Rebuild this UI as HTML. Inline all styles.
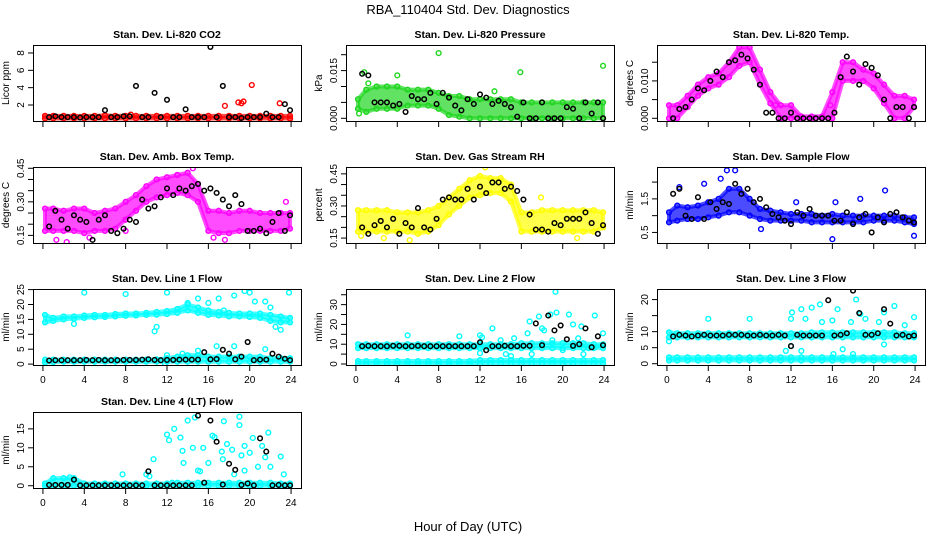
<!DOCTYPE html>
<html><head><meta charset="utf-8">
<style>
html,body{margin:0;padding:0;background:#fff;}
svg{display:block;font-family:"Liberation Sans",Arial,sans-serif;}
</style></head>
<body>
<svg id="chart" width="936" height="540" viewBox="0 0 936 540" xmlns="http://www.w3.org/2000/svg">
<rect x="0" y="0" width="936" height="540" fill="#fff"/>
<text x="468" y="14" text-anchor="middle" font-size="13">RBA_110404  Std. Dev. Diagnostics</text>
<text x="468" y="531" text-anchor="middle" font-size="13">Hour of Day (UTC)</text>
<g id="plots"></g>
</svg>
<script>
// shared hourly bins
const hours = [0,1,2,3,4,5,6,7,8,9,10,11,12,13,14,15,16,17,18,19,20,21,22,23,24];
const xTicks = [0,4,8,12,16,20,24];
// black reference sampling times
const blkT = [0.6,1.2,1.8,2.4,3,3.6,4.2,4.8,5.4,6,6.6,7.2,7.8,8.4,9,9.6,10.2,10.8,11.4,12,12.6,13.2,13.8,14.4,15,15.6,16.2,16.8,17.4,18,18.6,19.2,19.8,20.4,21,21.6,22.2,22.8,23.4,23.9];

// P1 CO2
const co2Lo = [0.45,0.45,0.45,0.45,0.45,0.45,0.45,0.45,0.45,0.45,0.45,0.45,0.45,0.45,0.45,0.45,0.45,0.45,0.45,0.45,0.45,0.45,0.45,0.45,0.45];
const co2Hi = [0.75,0.75,0.75,0.75,0.75,0.75,0.8,0.75,0.75,0.75,0.75,0.75,0.75,0.75,0.75,0.75,0.75,0.75,0.75,0.75,0.75,0.75,0.75,0.75,0.75];
const co2Out = [[17.6,1.9],[18.9,2.3],[19.2,2.2],[19.4,2.4],[20.2,4.3],[22.9,2.2],[23.9,0.4],[8.5,0.9]];
const co2Blk = [0.6,0.7,0.6,0.6,0.6,0.55,0.6,0.6,0.6,1.4,0.6,0.6,0.7,0.7,4.2,0.6,0.6,3.4,0.6,2.6,0.6,0.6,1.5,0.6,0.6,0.6,8.7,0.6,4.2,0.6,0.6,0.5,0.6,0.6,0.6,1.0,0.6,0.6,2.1,1.4];

// P2 Pressure
const prLo = [0.003,0.002,0.003,0.003,0.003,0.004,0.004,0.004,0.003,0.001,0.0005,0,0,0,0,0,0,0,0,0,0,0,0,0,0];
const prHi = [0.006,0.009,0.010,0.010,0.010,0.009,0.009,0.009,0.008,0.007,0.007,0.006,0.006,0.006,0.006,0.006,0.005,0.005,0.005,0.005,0.005,0.005,0.005,0.005,0.005];
const prOut = [[0.3,0.0015],[0.8,0.0145],[4,0.0135],[8,0.0205],[15.9,0.0145],[23.9,0.0165],[13.4,0.0085],[1.2,0.011]];
const prBlk = [0.014,0.0135,0.005,0.005,0.005,0.004,0.0045,0.002,0.007,0.006,0.006,0.008,0.0045,0.008,0.0065,0.004,0.0025,0.006,0.0045,0.0075,0.0065,0.0045,0.0055,0.0045,0.0035,0.0005,0.005,0,0,0.005,0,0,0,0.0035,0.003,0,0.005,0.0015,0.005,0];

// P3 Li-820 Temp
const tmLo = [0,0,0.003,0.006,0.008,0.009,0.011,0.014,0.015,0.009,0.004,0,0,0,0,0,0,0.010,0.010,0.010,0.008,0.004,0,0,0.003];
const tmHi = [0.0035,0.0035,0.006,0.009,0.011,0.012,0.015,0.019,0.019,0.013,0.007,0.0035,0.0035,0.0005,0.0005,0.0005,0.007,0.015,0.015,0.013,0.012,0.009,0.006,0.006,0.005];
const tmOut = [[10.5,0.0035],[15.8,0.0035]];
const tmBlk = [0,0.0025,0.003,0.005,0.008,0.0075,0.010,0.0125,0.011,0.015,0.0155,0.017,0.016,0.013,0.009,0.0015,0.0015,0,0,0.0015,0,0,0,0,0,0,0.0015,0.011,0.0165,0.0125,0.009,0.0145,0.0135,0.0115,0.005,0,0.003,0.003,0,0.003];

// P4 Amb Box Temp
const abLo = [0.17,0.17,0.17,0.17,0.16,0.17,0.17,0.18,0.22,0.26,0.30,0.32,0.33,0.34,0.33,0.30,0.17,0.16,0.16,0.17,0.17,0.17,0.17,0.17,0.18];
const abHi = [0.27,0.27,0.26,0.27,0.27,0.25,0.26,0.27,0.30,0.33,0.37,0.40,0.41,0.42,0.43,0.38,0.26,0.26,0.25,0.26,0.26,0.25,0.25,0.25,0.25];
const abOut = [[1.3,0.13],[2.3,0.12],[8,0.17],[13,0.42],[14.5,0.45],[16.5,0.14],[17.6,0.13],[23.5,0.3],[4.5,0.14]];
const abBlk = [0.19,0.26,0.22,0.18,0.24,0.22,0.21,0.13,0.22,0.24,0.17,0.16,0.18,0.22,0.21,0.31,0.27,0.28,0.32,0.36,0.33,0.36,0.35,0.37,0.38,0.35,0.36,0.34,0.31,0.28,0.33,0.29,0.17,0.17,0.18,0.16,0.21,0.25,0.17,0.24];

// P5 Gas Stream RH
const rhLo = [0.18,0.18,0.18,0.18,0.18,0.18,0.17,0.18,0.21,0.26,0.30,0.34,0.35,0.36,0.36,0.32,0.18,0.18,0.18,0.18,0.18,0.18,0.18,0.18,0.20];
const rhHi = [0.28,0.28,0.28,0.28,0.27,0.27,0.27,0.28,0.30,0.34,0.38,0.42,0.44,0.43,0.43,0.40,0.27,0.27,0.28,0.28,0.28,0.28,0.28,0.28,0.27];
const rhOut = [[0.5,0.16],[2.7,0.15],[5.2,0.14],[12.5,0.48],[17.9,0.34],[21.4,0.15]];
const rhBlk = [0.2,0.17,0.21,0.23,0.2,0.24,0.17,0.22,0.2,0.29,0.2,0.19,0.24,0.33,0.34,0.33,0.33,0.38,0.33,0.39,0.36,0.41,0.41,0.38,0.39,0.37,0.33,0.26,0.19,0.19,0.18,0.22,0.21,0.24,0.24,0.24,0.27,0.22,0.17,0.21];

// P6 Sample Flow
const sfLo = [0.8,0.85,0.9,0.9,0.95,1.0,1.1,1.1,1.0,0.9,0.85,0.85,0.85,0.85,0.8,0.8,0.8,0.8,0.8,0.8,0.85,0.85,0.85,0.8,0.75];
const sfHi = [1.1,1.3,1.25,1.3,1.4,1.5,1.8,1.8,1.5,1.2,1.15,1.1,1.05,1.05,1.05,1.0,1.05,1.0,1.0,1.0,1.0,1.0,1.0,0.95,0.95];
const sfOut = [[1.2,1.85],[3.6,1.95],[5.2,2.1],[5.8,2.35],[6.6,2.35],[9.1,0.6],[16,0.3],[18.7,1.5],[21.1,1.75],[23.9,0.4],[12.5,1.4],[16.3,1.4]];
const sfBlk = [1.65,1.8,1.0,0.9,1.55,0.9,1.4,1.2,1.4,1.35,1.95,1.65,1.8,1.4,1.5,1.25,1.05,0.95,0.85,0.75,1.1,1.0,1.2,1.0,1.0,1.0,0.85,0.85,1.1,0.75,0.95,1.05,0.5,0.95,0.8,1.05,1.1,0.95,0.85,0.8];

// P7 Line 1 Flow
const l1aLo = [14,14.5,15,15.2,15.5,15.7,15.8,16,16.2,16.3,16.5,16.6,16.8,17.2,18,17.2,16.5,16.3,16,16,15.8,15.5,14.5,14,14];
const l1aHi = [16.5,15.5,16,16,16.3,16.5,16.5,16.8,17,17,17.2,17.5,17.8,18.5,20,19,18,17.5,17.2,17,17,17,16.5,16,15.5];
const l1bLo = [0.5,0.7,0.8,0.8,0.8,0.8,0.8,0.8,0.8,0.8,0.8,0.8,0.8,0.8,0.8,0.8,0.8,0.8,0.8,0.8,0.8,0.8,0.8,0.8,0.8];
const l1bHi = [1.5,1.5,1.5,1.5,1.5,1.5,1.5,1.5,1.5,1.5,1.5,1.6,2,2.5,3,3,2.5,2.5,2.5,2.5,2.5,2.5,2,2,2];
const l1Out = [[4,24],[8,23.5],[10.8,11],[11,12.5],[12,24],[14,20.5],[15,22],[16,20.5],[17,22],[17.5,18],[18.5,23],[19.5,24.5],[20,24],[20.5,21],[21.5,21],[22,19],[22.5,12.5],[23.8,24],[16.8,6],[18.5,6],[21.5,5],[13.5,3.5],[15,4.5],[12,3],[3,13.5],[23,11.5],[11.8,0.2]];
const l1Blk = [1.2,1.3,1.3,1.3,1.3,1.3,1.4,1.3,1.4,1.3,1.3,1.3,1.4,1.4,1.4,1.5,1.6,1.4,1.3,1.4,1.4,1.5,1.5,1.5,1.5,4,1.6,1.7,4.8,3.5,1.6,2.5,7.4,1.3,1.5,1.5,3.5,2.5,1.8,1.3];

// P8 Line 2 Flow
const l2aLo = [8,8,8,8,8,8,8,8,8,8,8,8,8,8,8,8,8,8,8,8,8,8,8,8,8];
const l2aHi = [10,10,10,10,10,10,10,10,10,10,10,10,10,10,10,10,10.5,10.5,10.5,10.5,10.5,10.5,10.5,10,10];
const l2bLo = [0.3,0.3,0.3,0.3,0.3,0.3,0.3,0.3,0.3,0.3,0.3,0.3,0.3,0.3,0.3,0.3,0.3,0.3,0.3,0.3,0.3,0.3,0.3,0.3,0.3];
const l2bHi = [1.5,1.5,1.5,1.5,1.5,1.5,1.5,1.5,1.5,1.5,1.5,1.5,2,2,2,2,2,2,2,2,2,2,2,2,2];
const l2Out = [[5,14.5],[10,14],[12,14.5],[12.2,13.5],[13.2,18],[14,12],[15.3,13],[16.6,15.5],[16.8,21.5],[17.7,24],[18,18],[18.2,17],[18.8,25],[19.3,36.5],[19.4,26],[20.6,25],[21,20],[21.5,13],[21.8,19],[23.1,24.5],[23.9,15.5],[14.5,5],[15,4],[17,5],[20,7],[22,5],[12,5.5],[19,12],[22.5,8]];
const l2Blk = [9,9.2,9,9,9,9.2,9.2,9,9,9.2,9,9,9,9,9,9,9,9,9,11,7,9,9,9.2,9,9,9.2,9.2,20.5,9.5,24.5,17,19.5,12.5,9.2,10,18,8.5,14,9.5];

// P9 Line 3 Flow
const l3aLo = [8.2,8.2,8.2,8.2,8.2,8.2,8.2,8.2,8.2,8.2,8.2,8.2,8.2,8.2,8.2,8.2,8.2,8.2,8.2,8.2,8.2,8.2,8.2,8.2,8.2];
const l3aHi = [9.8,9.5,9.5,9.5,9.5,9.5,9.5,9.5,9.5,9.5,9.5,9.5,9.5,9.5,9.8,9.8,9.8,9.8,9.8,9.8,9.8,9.8,9.8,9.5,9.5];
const l3bLo = [1.0,1.0,1.0,1.0,1.0,1.0,1.0,1.0,1.0,1.0,1.0,1.0,1.0,1.0,1.0,1.0,1.0,1.0,1.0,1.0,1.0,1.0,1.0,1.0,1.0];
const l3bHi = [2.0,2.0,2.0,2.0,2.0,2.0,2.0,2.0,2.0,2.0,2.0,2.0,2.0,2.0,2.0,2.0,2.0,2.0,2.0,2.0,2.0,2.0,2.0,2.0,2.0];
const l3Out = [[4,14],[8,14],[12,14],[12.1,16],[13,17],[13.4,14],[14,17.5],[15,13],[14.8,18.5],[16,13.5],[16.5,17],[17.8,13],[18.3,20],[18.7,15.5],[19.2,14],[20.5,13],[21,16],[22,18],[23,12],[23.9,14.5],[12,5.5],[13,4],[17,4.5],[21,6],[16.1,3],[18,3],[0.2,7],[11.5,4]];
const l3Blk = [8.5,9,8.8,8.5,8.8,9,8.8,8.8,8.8,9,9,9,8.8,8.8,9,8.8,8.8,9,8.8,5.5,9,8.8,8.8,8.8,8.8,19.8,8.8,9,9.5,22.8,15.8,9,9,9.5,17,12.5,8.8,9,8.5,8.8];

// P10 Line 4 (LT) Flow
const l4Lo = [0,0,0,0,0,0,0,0,0,0,0,0,0,0,0,0,0,0,0,0,0,0,0,0,0];
const l4Hi = [0.6,2,2,2,0.6,0.6,0.6,0.6,0.6,0.6,0.6,0.6,0.6,0.8,0.8,0.8,0.8,0.8,0.8,0.8,0.8,0.8,0.8,0.6,0.6];
const l4Out = [[7.7,3],[10.7,7],[12,13.5],[12.2,12],[12.7,15],[13.3,12.7],[13.5,9.2],[13.6,6],[14,17.2],[14.7,18],[14.5,10],[15,4],[15.5,10],[16,6],[16.4,13.2],[16.6,12.8],[17.5,17],[17.8,11],[17.3,9],[18.3,9.5],[19,18.2],[19,16],[19.2,8],[19.5,10.5],[20,8.7],[20.3,12.6],[20.8,5],[21.2,10.5],[21.5,7.5],[21.8,14],[22,5],[23,7.7],[23.3,3],[15.2,3.8],[17.4,7],[18.5,3],[19.5,4],[12.5,0.8],[10,3],[10.3,2.5],[2.6,2.2]];
const l4Blk = [0.2,0.2,0.2,0.2,1.6,0.1,0.1,0.1,0.1,0.1,0.1,0.1,0.1,0.1,0.1,0.1,3.8,0.1,0.1,0.1,0.1,0.1,0.1,0.1,18.5,0.8,17.2,11.6,0.3,5.8,4.2,0.2,0.6,0.1,12.5,9,0.1,0.2,0.1,0.1];

const panels = [
 {id:'co2',title:'Stan. Dev. Li-820 CO2',ylab:'Licor ppm',col:0,row:0,ylim:[0.155,8.92],ticks:[2,4,6,8],labels:['2','4','6','8'],color:'#ff0000',bands:[[co2Lo,co2Hi]],out:co2Out,blk:co2Blk},
 {id:'pressure',title:'Stan. Dev. Li-820 Pressure',ylab:'kPa',col:1,row:0,ylim:[-0.00085,0.02305],ticks:[0,0.005,0.01,0.015,0.02],labels:['0.000','','','0.015',''],color:'#1fd61f',bands:[[prLo,prHi]],out:prOut,blk:prBlk},
 {id:'li820-temp',title:'Stan. Dev. Li-820 Temp.',ylab:'degrees C',col:2,row:0,ylim:[-0.00072,0.0196],ticks:[0,0.005,0.01,0.015],labels:['0.000','','0.010',''],color:'#ff00ff',bands:[[tmLo,tmHi]],out:tmOut,blk:tmBlk},
 {id:'amb-box-temp',title:'Stan. Dev. Amb. Box Temp.',ylab:'degrees C',col:0,row:1,ylim:[0.116,0.4557],ticks:[0.15,0.2,0.25,0.3,0.35,0.4,0.45],labels:['0.15','','','0.30','','','0.45'],color:'#ff00ff',bands:[[abLo,abHi]],out:abOut,blk:abBlk},
 {id:'gas-stream-rh',title:'Stan. Dev. Gas Stream RH',ylab:'percent',col:1,row:1,ylim:[0.127,0.482],ticks:[0.15,0.2,0.25,0.3,0.35,0.4,0.45],labels:['0.15','','','0.30','','','0.45'],color:'#ffff00',bands:[[rhLo,rhHi]],out:rhOut,blk:rhBlk},
 {id:'sample-flow',title:'Stan. Dev. Sample Flow',ylab:'ml/min',col:2,row:1,ylim:[0.185,2.45],ticks:[0.5,1,1.5,2],labels:['0.5','','1.5',''],color:'#0000ff',bands:[[sfLo,sfHi]],out:sfOut,blk:sfBlk},
 {id:'line1-flow',title:'Stan. Dev. Line 1 Flow',ylab:'ml/min',col:0,row:2,ylim:[-0.3,25.2],ticks:[0,5,10,15,20,25],labels:['0','5','10','15','20','25'],color:'#00ffff',bands:[[l1aLo,l1aHi],[l1bLo,l1bHi]],out:l1Out,blk:l1Blk},
 {id:'line2-flow',title:'Stan. Dev. Line 2 Flow',ylab:'ml/min',col:1,row:2,ylim:[-0.5,37.9],ticks:[0,5,10,15,20,25,30,35],labels:['0','','10','','20','','30',''],color:'#00ffff',bands:[[l2aLo,l2aHi],[l2bLo,l2bHi]],out:l2Out,blk:l2Blk},
 {id:'line3-flow',title:'Stan. Dev. Line 3 Flow',ylab:'ml/min',col:2,row:2,ylim:[-0.4,23.3],ticks:[0,5,10,15,20],labels:['0','5','10','','20'],color:'#00ffff',bands:[[l3aLo,l3aHi],[l3bLo,l3bHi]],out:l3Out,blk:l3Blk},
 {id:'line4-flow',title:'Stan. Dev. Line 4 (LT) Flow',ylab:'ml/min',col:0,row:3,ylim:[-0.6,19.45],ticks:[0,5,10,15],labels:['0','5','10','15'],color:'#00ffff',bands:[[l4Lo,l4Hi]],out:l4Out,blk:l4Blk}
];

const NS='http://www.w3.org/2000/svg';
const root=document.getElementById('plots');
function mk(tag,attrs,parent){const e=document.createElementNS(NS,tag);for(const k in attrs)e.setAttribute(k,attrs[k]);parent.appendChild(e);return e;}
const colL=[33,346,657], rowT=[45,167,289,412], W=268, H=76;

panels.forEach(p=>{
  const L=colL[p.col], T=rowT[p.row], B=T+H;
  const g=mk('g',{},root);
  
  
  const xs=t=>L+(t+0.96)/25.92*W;
  const ys=v=>B-(v-p.ylim[0])/(p.ylim[1]-p.ylim[0])*H;
  const clipId='clip-'+p.id;
  const cp=mk('clipPath',{id:clipId},g); mk('rect',{x:L,y:T,width:W,height:H},cp);
  const data=mk('g',{'clip-path':'url(#'+clipId+')'},g);
  p.bands.forEach((bd,bi)=>{
    const lo=bd[0],hi=bd[1];
    let pts=[];
    hours.forEach((h,i)=>{pts.push(xs(Math.max(0.2,Math.min(23.9,h)))+','+ys(hi[i]));});
    for(let i=hours.length-1;i>=0;i--){pts.push(xs(Math.max(0.2,Math.min(23.9,hours[i])))+','+ys(lo[i]));}
    const poly=mk('polygon',{points:pts.join(' '),fill:p.color,'fill-opacity':0.7,stroke:p.color,'stroke-opacity':0.7,'stroke-width':4,'stroke-linejoin':'round'},data);
    
    
    hours.forEach((h,i)=>{
      const t=Math.max(0.2,Math.min(23.9,h));
      [lo[i],hi[i]].forEach(v=>{
        const c=mk('circle',{cx:xs(t),cy:ys(v),r:2.4,fill:'none',stroke:p.color,'stroke-width':1.4},data);
        
        
      });
    });
  });
  p.out.forEach(o=>{
    const c=mk('circle',{cx:xs(o[0]),cy:ys(o[1]),r:2.4,fill:'none',stroke:p.color,'stroke-width':1.4},data);
    
    
  });
  p.blk.forEach((v,i)=>{
    const c=mk('circle',{cx:xs(blkT[i]),cy:ys(v),r:2.3,fill:'none',stroke:'#000','stroke-width':1.5},data);
    
    
  });
  const box=mk('rect',{x:L+0.5,y:T+0.5,width:W,height:H,fill:'none',stroke:'#000','stroke-width':1},g);
  
  
  const tt=mk('text',{x:L+W/2,y:T-7,'text-anchor':'middle','font-size':10.5,'font-weight':'bold'},g);
  tt.textContent=p.title;
  
  
  const yl=mk('text',{x:0,y:0,'text-anchor':'middle','font-size':10,transform:'translate('+(L-24)+','+(T+H/2)+') rotate(-90)'},g);
  yl.textContent=p.ylab;
  
  
  p.ticks.forEach((v,i)=>{
    const y=ys(v);
    mk('line',{x1:L,x2:L-5,y1:y,y2:y,stroke:'#000','stroke-width':1},g);
    if(p.labels[i]){
      const t=mk('text',{x:0,y:0,'text-anchor':'middle','font-size':10,transform:'translate('+(L-9)+','+y+') rotate(-90)'},g);
      t.textContent=p.labels[i];
      
      
    }
  });
  xTicks.forEach(h=>{
    const x=xs(h);
    mk('line',{x1:x,x2:x,y1:B+1,y2:B+6,stroke:'#000','stroke-width':1},g);
    if(p.row>=2){
      const t=mk('text',{x:x,y:B+18,'text-anchor':'middle','font-size':10},g);
      t.textContent=h;
      
      
    }
  });
});
</script>
</body></html>
